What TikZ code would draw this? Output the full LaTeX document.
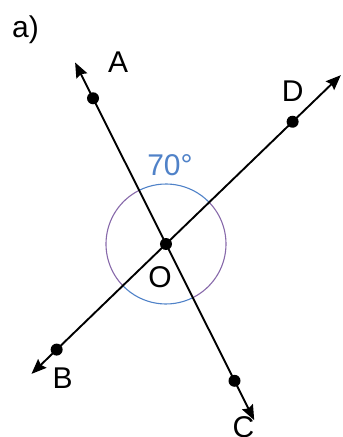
\documentclass[tikz,border=0pt]{standalone}
\usepackage{fontspec}
\setmainfont{Liberation Sans}
\usetikzlibrary{arrows.meta, positioning, calc}

\definecolor{arcblue}{RGB}{80,130,200}
\definecolor{arcpurple}{RGB}{135,105,170}

\begin{document}
\begin{tikzpicture}[x=1pt,y=1pt,
  ray/.style={line width=1.9pt,{Stealth[length=15pt,width=12pt,inset=2pt]}-{Stealth[length=15pt,width=12pt,inset=2pt]}},
  dot/.style={circle,fill=black,inner sep=0pt,minimum size=12pt},
  lbl/.style={font=\fontsize{30}{30}\selectfont,anchor=base,inner sep=0pt}]
  \useasboundingbox (-166,-193) rectangle (177,244);

  % Line ends (arrow tips)
  \coordinate (tipA) at (116.6:203);
  \coordinate (tipC) at (296.6:197);
  \coordinate (tipD) at (44:243);
  \coordinate (tipB) at (224:187);

  % Angle circle round O
  \draw[arcblue,line width=1.1pt] (0,0) ++(44:60) arc (44:116.6:60);
  \draw[arcpurple,line width=1.1pt] (0,0) ++(116.6:60) arc (116.6:224:60);
  \draw[arcblue,line width=1.1pt] (0,0) ++(224:60) arc (224:296.6:60);
  \draw[arcpurple,line width=1.1pt] (0,0) ++(296.6:60) arc (296.6:404:60);

  % The two lines
  \draw[ray] (tipA) -- (tipC);
  \draw[ray] (tipB) -- (tipD);

  % Points
  \node[dot] (O) at (0,0) {};
  \node[dot] (A) at (116.6:163) {};
  \node[dot] (C) at (296.6:153) {};
  \node[dot] (D) at (44:176) {};
  \node[dot] (B) at (224:152) {};

  % Labels
  \node[lbl] (labA) at ($(A)+(25,26)$) {A};
  \node[lbl] (labD) at ($(D)+(0,20)$) {D};
  \node[lbl] (labB) at ($(B)+(6,-39)$) {B};
  \node[lbl] (labC) at ($(C)+(9,-57)$) {C};
  \node[lbl] (labO) at ($(O)+(-6,-43)$) {O};
  \node[lbl,arcblue] (ang) at ($(O)+(4,69)$) {70°};
  \node[lbl,anchor=base west] (part) at (-154,206) {a)};
\end{tikzpicture}
\end{document}
